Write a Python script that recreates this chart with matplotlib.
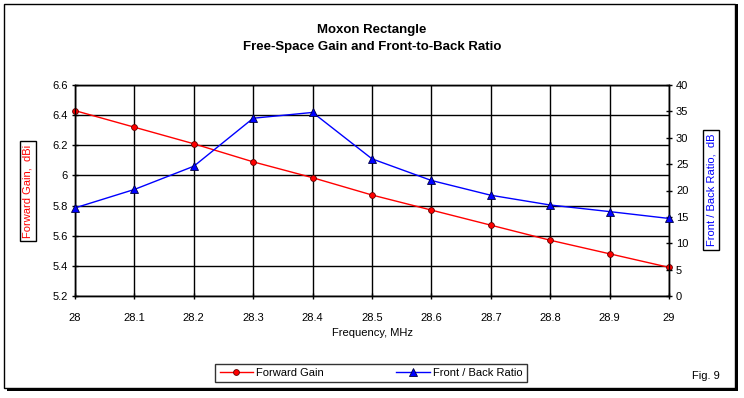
import numpy as np
import matplotlib.pyplot as plt
from matplotlib.patches import Rectangle
from matplotlib.lines import Line2D

freq = [28.0, 28.1, 28.2, 28.3, 28.4, 28.5, 28.6, 28.7, 28.8, 28.9, 29.0]
gain = [6.43, 6.32, 6.21, 6.09, 5.985, 5.87, 5.77, 5.67, 5.57, 5.48, 5.39]
fb = [16.7, 20.2, 24.6, 33.7, 34.8, 26.0, 21.9, 19.1, 17.25, 16.0, 14.7]
xticks = [28, 28.1, 28.2, 28.3, 28.4, 28.5, 28.6, 28.7, 28.8, 28.9, 29]
xticklabels = ['28', '28.1', '28.2', '28.3', '28.4', '28.5', '28.6', '28.7', '28.8', '28.9', '29']
gticks = [5.2, 5.4, 5.6, 5.8, 6.0, 6.2, 6.4, 6.6]
gticklabels = ['5.2', '5.4', '5.6', '5.8', '6', '6.2', '6.4', '6.6']
fbticks = [0, 5, 10, 15, 20, 25, 30, 35, 40]

plt.rcParams['font.family'] = ['Liberation Sans', 'DejaVu Sans']
W, H = 744, 398
fig = plt.figure(figsize=(W/100, H/100), dpi=100)

def fx(px):
    return px / W

def fy(py):
    return 1 - py / H

# chart border with shadow
fig.patches.append(Rectangle((fx(7), fy(391)), fx(731), 387/H, transform=fig.transFigure,
                             facecolor='black', edgecolor='none', zorder=0))
fig.patches.append(Rectangle((fx(4), fy(388)), fx(731), 384/H, transform=fig.transFigure,
                             facecolor='white', edgecolor='black', lw=1, zorder=1))

ax = fig.add_axes([fx(75), fy(296), fx(669) - fx(75), (296 - 85)/H])
ax.set_zorder(2)
ax2 = ax.twinx()

ax.plot(freq, gain, color='red', lw=1, marker='o', ms=4.2, mfc='red', mec='#600000', mew=0.6,
        zorder=4, clip_on=False)
ax2.plot(freq, fb, color='blue', lw=1, marker='^', ms=5.2, mfc='blue', mec='#000040', mew=0.6,
         zorder=4, clip_on=False)

ax.set_xlim(28, 29)
ax.set_ylim(5.2, 6.6)
ax2.set_ylim(0, 40)
ax.set_xticks(xticks)
ax.set_xticklabels(xticklabels)
ax.set_yticks(gticks)
ax.set_yticklabels(gticklabels)
ax2.set_yticks(fbticks)
ax.grid(True, color='black', lw=1)
ax.set_axisbelow(True)
for a in (ax, ax2):
    for s in a.spines.values():
        s.set_linewidth(1)
    a.tick_params(labelsize=8, length=4, width=1, direction='inout', pad=3)
ax.tick_params(axis='x', pad=10)

ax.set_xlabel('Frequency, MHz', fontsize=8, labelpad=4)
fig.text(fx(28), fy(191), 'Forward Gain,  dBi', color='red', fontsize=8, rotation=90,
         ha='center', va='center',
         bbox=dict(boxstyle='square,pad=0.3', fc='white', ec='black', lw=1))
fig.text(fx(711), fy(190), 'Front / Back Ratio,  dB', color='blue', fontsize=8, rotation=90,
         ha='center', va='center',
         bbox=dict(boxstyle='square,pad=0.3', fc='white', ec='black', lw=1))

fig.text(0.5, fy(30), 'Moxon Rectangle', fontsize=9.5, fontweight='bold', ha='center', va='center')
fig.text(0.5, fy(47), 'Free-Space Gain and Front-to-Back Ratio', fontsize=9.5, fontweight='bold',
         ha='center', va='center')
fig.text(fx(706), fy(376), 'Fig. 9', fontsize=8, ha='center', va='center')

h1 = Line2D([], [], color='red', lw=1, marker='o', ms=4.2, mfc='red', mec='#600000', mew=0.6)
h2 = Line2D([], [], color='blue', lw=1, marker='^', ms=5.2, mfc='blue', mec='#000040', mew=0.6)
leg = fig.legend([h1, h2], ['Forward Gain', 'Front / Back Ratio'], ncol=2, fontsize=8,
                 loc='center', bbox_to_anchor=(fx(371), fy(373)), frameon=True, fancybox=False,
                 edgecolor='black', handlelength=3.0, handletextpad=0.3, columnspacing=6.5,
                 borderpad=0.4)
leg.get_frame().set_linewidth(1)

fig.savefig('out.png', dpi=100)
